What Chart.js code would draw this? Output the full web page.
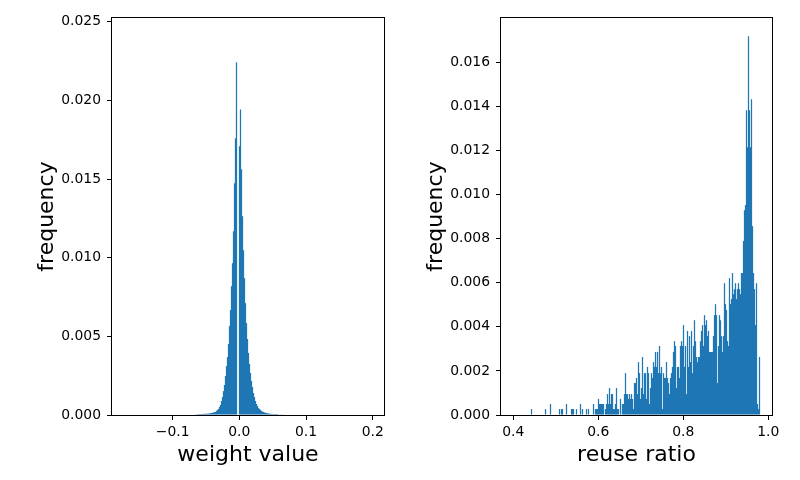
<!DOCTYPE html>
<html>
<head>
<meta charset="utf-8">
<script src="https://cdn.jsdelivr.net/npm/chart.js"></script>
<style>
  html, body { margin: 0; padding: 0; background: #fff; }
  #wrap { position: relative; width: 800px; height: 480px; }
  .panel { position: absolute; top: 0; width: 400px; height: 480px; }
</style>
</head>
<body>
<div id="wrap">
  <div class="panel" style="left:0"><canvas id="weightChart" width="400" height="480"></canvas></div>
  <div class="panel" style="left:400px"><canvas id="reuseChart" width="400" height="480"></canvas></div>
</div>
<script>
// left histogram: weight values, first bin centre and bin width
var weightBinStart = -0.07021;
var weightBinWidth = 0.0014993;
var weightFreq = [
  0.00003, 0.00003, 0.00004, 0.00004, 0.00004, 0.00005, 0.00006, 0.00006,
  0.00006, 0.00006, 0.00007, 0.00007, 0.00007, 0.00008, 0.00008, 0.00008, 0.00009, 0.0001,
  0.00011, 0.00013, 0.00014, 0.00016, 0.00018, 0.00019, 0.00025, 0.00032, 0.00038, 0.00051,
  0.00064, 0.00089, 0.00114, 0.00152, 0.00191, 0.00248, 0.00311, 0.00368, 0.00451, 0.00565,
  0.00667, 0.00819, 0.00965, 0.01168, 0.01473, 0.01759, 0.02242, 0, 0, 0.01708,
  0.01943, 0.01562, 0.01264, 0.01048, 0.0087, 0.00711, 0.00584, 0.00483, 0.00394, 0.00324,
  0.00267, 0.00216, 0.00178, 0.0014, 0.00114, 0.00089, 0.0007, 0.00057, 0.00044, 0.00038,
  0.00032, 0.00025, 0.00022, 0.00019, 0.00016, 0.00014, 0.00013, 0.00011, 0.0001, 0.00008,
  0.00008, 0.00007, 0.00006, 0.00006, 0.00006, 0.00006, 0.00006, 0.00006, 0.00004, 0.00004,
  0.00004, 0.00004, 0.00004, 0.00004, 0.00003, 0.00003, 0.00003, 0.00003, 0.00003, 0.00003
];
var weightTicks = [-0.1, 0.0, 0.1, 0.2];
var weightFreqTicks = [0, 0.005, 0.01, 0.015, 0.02, 0.025];

// right histogram: reuse ratio
var reuseBinStart = 0.40277;
var reuseBinWidth = 0.0023531;
var reuseFreq = [
  0, 0, 0, 0, 0, 0, 0, 0, 0, 0,
  0, 0, 0, 0, 0, 0, 0, 0.00027, 0, 0,
  0, 0, 0, 0, 0, 0, 0, 0, 0, 0,
  0, 0.00027, 0, 0, 0, 0, 0.0005, 0, 0, 0,
  0, 0, 0, 0, 0, 0.00027, 0, 0.00027, 0.00027, 0,
  0, 0, 0.0005, 0, 0, 0, 0, 0.00027, 0.00027, 0.00027,
  0, 0, 0.00027, 0, 0, 0, 0.0005, 0, 0.00027, 0,
  0, 0, 0.00027, 0, 0.00027, 0, 0, 0, 0, 0.0005,
  0, 0.00027, 0.00027, 0.00027, 0.00073, 0.0005, 0.0005, 0.0005, 0.0005, 0.0005,
  0, 0.00027, 0.0005, 0.00095, 0.0005, 0.00122, 0.0005, 0.00095, 0.00095, 0.00027,
  0.00027, 0.0005, 0.00122, 0.00027, 0.00027, 0, 0.00073, 0, 0.0005, 0.0005,
  0.00095, 0.0019, 0.00095, 0.00095, 0.00073, 0.00095, 0.00073, 0.00095, 0.00073, 0.00027,
  0.00145, 0.00145, 0.00168, 0.00095, 0.0024, 0.0019, 0.00073, 0.00122, 0.00263, 0.00095,
  0.0019, 0.0019, 0.00073, 0.00218, 0.0019, 0.0005, 0.00122, 0.0019, 0.00168, 0.0024,
  0.00218, 0.00286, 0.00218, 0.00286, 0.0019, 0.00313, 0.0019, 0.00218, 0.00027, 0.0019,
  0.00168, 0.00168, 0.0024, 0.00168, 0.00145, 0.00095, 0.00168, 0.0019, 0.00218, 0.00286,
  0.00335, 0.00313, 0.00122, 0.00218, 0.00218, 0.00168, 0.00313, 0.00335, 0.00313, 0.00408,
  0.00218, 0.00313, 0.00095, 0.00381, 0.00218, 0.00358, 0.0024, 0.00381, 0.0019, 0.00313,
  0.0043, 0.00335, 0.00263, 0.0024, 0.00263, 0.00263, 0.00335, 0.00381, 0.00408, 0.00313,
  0.00453, 0.00408, 0.0043, 0.00358, 0.00381, 0.00286, 0.00286, 0.00286, 0.00286, 0.00358,
  0.00453, 0.00503, 0.00453, 0.00145, 0.00313, 0.00453, 0.0043, 0.00358, 0.00286, 0.00358,
  0.00598, 0.00503, 0.00476, 0.00335, 0.00313, 0.00621, 0.00503, 0.00526, 0.00644, 0.00548,
  0.00571, 0.00598, 0.00526, 0.00571, 0.00598, 0.00571, 0.00548, 0.00644, 0.00644, 0.00789,
  0.00929, 0.00952, 0.01383, 0.01215, 0.01718, 0.01383, 0.01215, 0.01432, 0.00857, 0.00644,
  0.00571, 0.00408, 0.00598, 0.0005, 0.00027, 0.00263
];
var reuseTicks = [0.4, 0.6, 0.8, 1.0];
var reuseFreqTicks = [0, 0.002, 0.004, 0.006, 0.008, 0.010, 0.012, 0.014, 0.016];

var FONT = 'DejaVu Sans';
var BLUE = '#1f77b4';

// matplotlib draws the full box around each axes
var frame = {
  id: 'frame',
  afterDatasetsDraw: function (chart) {
    var a = chart.chartArea, ctx = chart.ctx;
    ctx.save();
    ctx.strokeStyle = '#000';
    ctx.lineWidth = 1;
    ctx.strokeRect(Math.round(a.left) - 0.5, Math.round(a.top) - 0.5,
                   Math.round(a.right - a.left) + 1, Math.round(a.bottom - a.top) + 1);
    ctx.restore();
  }
};

function histPoints(start, width, freq) {
  return freq.map(function (f, i) { return { x: start + i * width, y: f }; });
}

function minus(s) { return s.replace('-', '\u2212'); }

function makeHist(id, points, o) {
  return new Chart(document.getElementById(id), {
    type: 'bar',
    data: {
      datasets: [{
        data: points,
        backgroundColor: BLUE,
        borderWidth: 0,
        // a touch wider than the bin so neighbouring bars overlap instead of leaving seams
        barPercentage: 1.25,
        categoryPercentage: 1.0
      }]
    },
    options: {
      responsive: false,
      animation: false,
      devicePixelRatio: 1,
      layout: { padding: { left: 0, right: o.padRight, top: 18, bottom: 0 } },
      plugins: { legend: { display: false }, tooltip: { enabled: false } },
      scales: {
        x: {
          type: 'linear',
          offset: false,
          min: o.xMin, max: o.xMax,
          grid: { offset: false, drawOnChartArea: false, drawTicks: true, tickLength: 5, color: '#000' },
          border: { display: false },
          afterBuildTicks: function (s) { s.ticks = o.xTicks.map(function (v) { return { value: v }; }); },
          afterFit: function (s) { s.height = 65; },
          ticks: {
            color: '#000', padding: 4, maxRotation: 0,
            font: { family: FONT, size: 13.9 },
            callback: function (v) { return minus(Number(v).toFixed(1)); }
          },
          title: {
            display: true, text: o.xTitle, color: '#000',
            font: { family: FONT, size: 22 },
            padding: { top: 0, bottom: 11.8 }
          }
        },
        y: {
          min: 0, max: o.yMax,
          grid: { drawOnChartArea: false, drawTicks: true, tickLength: 5, color: '#000' },
          border: { display: false },
          afterBuildTicks: function (s) { s.ticks = o.yTicks.map(function (v) { return { value: v }; }); },
          afterFit: function (s) { s.width = o.yWidth; },
          ticks: {
            color: '#000', padding: 6,
            font: { family: FONT, size: 13.9 },
            callback: function (v) { return Number(v).toFixed(3); }
          },
          title: {
            display: true, text: 'frequency', color: '#000',
            font: { family: FONT, size: 22 },
            padding: { top: o.yTitlePad, bottom: 0 }
          }
        }
      }
    },
    plugins: [frame]
  });
}

makeHist('weightChart', histPoints(weightBinStart, weightBinWidth, weightFreq), {
  xMin: -0.1909, xMax: 0.2169, yMax: 0.02524,
  xTicks: weightTicks, yTicks: weightFreqTicks,
  xTitle: 'weight value', yWidth: 112, yTitlePad: 33.8, padRight: 16
});

makeHist('reuseChart', histPoints(reuseBinStart, reuseBinWidth, reuseFreq), {
  xMin: 0.371, xMax: 1.0087, yMax: 0.01801,
  xTicks: reuseTicks, yTicks: reuseFreqTicks,
  xTitle: 'reuse ratio', yWidth: 101, yTitlePad: 22.8, padRight: 28
});
</script>
</body>
</html>
